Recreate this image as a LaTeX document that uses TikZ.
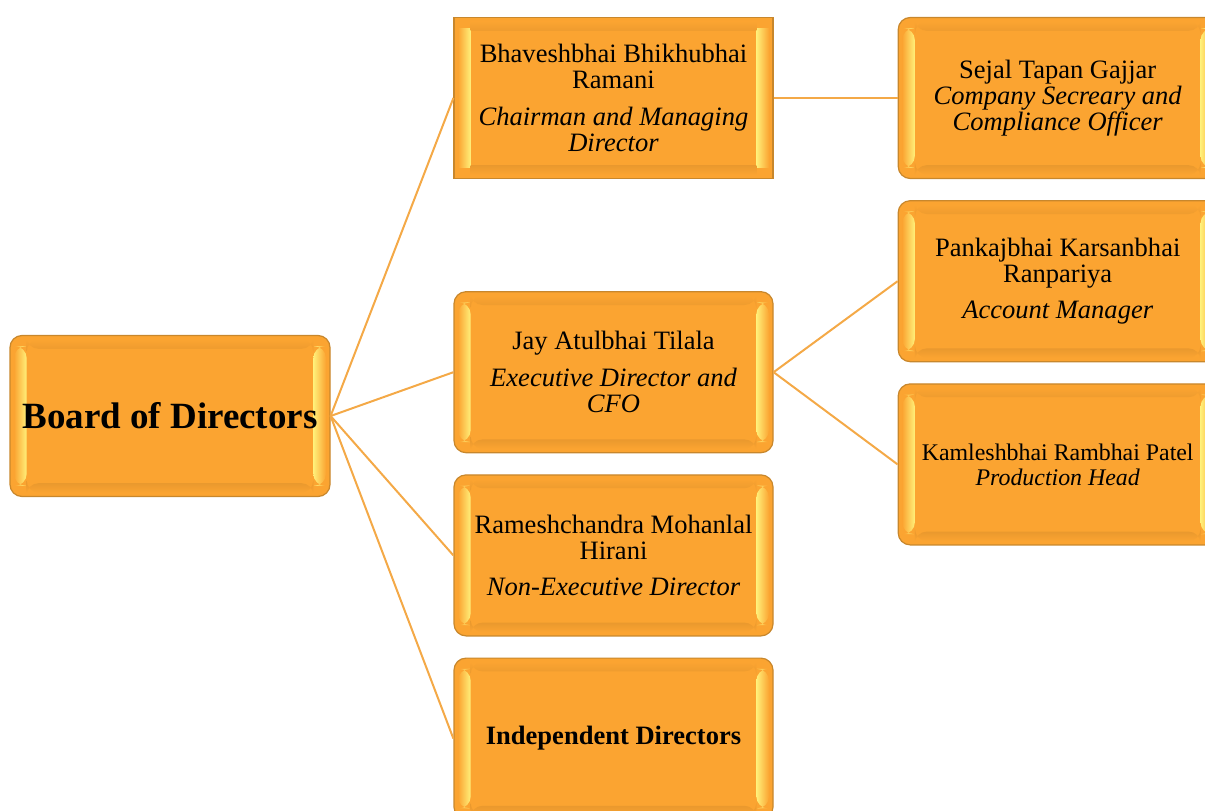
\documentclass[tikz,border=0pt]{standalone}
\usepackage{fontspec}
\setmainfont{Liberation Serif}
\usepackage{xcolor}
\usetikzlibrary{positioning,calc}
\definecolor{boxfill}{HTML}{FBA431}
\definecolor{boxedge}{HTML}{C8872C}
\definecolor{bevelhi}{HTML}{FFF07A}
\definecolor{linkcol}{HTML}{F4A947}
\tikzset{
  every node/.style={text=black},
  orgbox/.style={draw=boxedge,line width=0.9pt,fill=boxfill,align=center,inner sep=2pt,
    minimum width=239.25pt,minimum height=120.75pt,rounded corners=9pt,
    font=\fontsize{19.9}{19.5}\selectfont,
    path picture={
      \coordinate (bl) at (path picture bounding box.south west);
      \coordinate (tr) at (path picture bounding box.north east);
      \shade[left color=boxfill,right color=bevelhi] ($(bl)+(3pt,8pt)$) rectangle ($(bl|-tr)+(12.5pt,-8pt)$);
      \shade[left color=bevelhi,right color=boxfill] ($(tr|-bl)+(-12.5pt,8pt)$) rectangle ($(tr)+(-3pt,-8pt)$);
      \shade[top color=boxfill!93!black,bottom color=boxfill] ($(bl)+(12.5pt,3pt)$) rectangle ($(tr|-bl)+(-12.5pt,10pt)$);
      \shade[top color=boxfill,bottom color=boxfill!95!black] ($(bl|-tr)+(12.5pt,-10pt)$) rectangle ($(tr)+(-12.5pt,-3pt)$);
    }},
  sqbox/.style={orgbox,rounded corners=0pt},
  link/.style={draw=linkcol,line width=1.5pt}
}
\begin{document}
\begin{tikzpicture}[x=0.75pt,y=-0.75pt,node distance=15.75pt and 93pt]
  \useasboundingbox (0,0) rectangle (1205,810);
  \clip (0,0) rectangle (1205,810);

  \node[orgbox,minimum width=240pt,font=\fontsize{27.75}{30}\selectfont\bfseries] (board) at (170,416) {Board of Directors};

  \node[sqbox] (bhavesh) at (613.5,98) {Bhaveshbhai Bhikhubhai\\Ramani\\[8pt]\itshape Chairman and Managing\\\itshape Director};
  \node[orgbox,below=84pt of bhavesh] (jay) {Jay Atulbhai Tilala\\[8pt]\itshape Executive Director and\\\itshape CFO};
  \node[orgbox,below=of jay] (ramesh) {Rameshchandra Mohanlal\\Hirani\\[8pt]\itshape Non-Executive Director};
  \node[orgbox,below=of ramesh,font=\fontsize{19.9}{19.5}\selectfont\bfseries] (indep) {Independent Directors};

  \node[orgbox,right=of bhavesh] (sejal) {Sejal Tapan Gajjar\\\itshape Company Secreary and\\\itshape Compliance Officer};
  \node[orgbox,below=of sejal] (pankaj) {Pankajbhai Karsanbhai\\Ranpariya\\[8pt]\itshape Account Manager};
  \node[orgbox,below=of pankaj,font=\fontsize{17.9}{18.75}\selectfont] (kamlesh) {Kamleshbhai Rambhai Patel\\\itshape Production Head};

  % connectors
  \foreach \n in {bhavesh,jay,ramesh,indep} {\draw[link] (board.east) -- (\n.west);}
  \draw[link] (bhavesh.east) -- (sejal.west);
  \foreach \n in {pankaj,kamlesh} {\draw[link] (jay.east) -- (\n.west);}
\end{tikzpicture}
\end{document}
